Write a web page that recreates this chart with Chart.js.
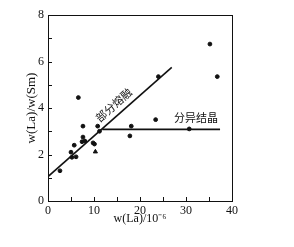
<!DOCTYPE html>
<html>
<head>
<meta charset="utf-8">
<script src="https://cdn.jsdelivr.net/npm/chart.js@4/dist/chart.umd.min.js"></script>
<style>
  html, body { margin: 0; padding: 0; background: #fff; }
  #c { display: block; }
</style>
</head>
<body>
<canvas id="c" width="294" height="247"></canvas>
<script>
// sample points w(La)/10^-6 vs w(La)/w(Sm)
const laValues = [2.6, 5.0, 5.2, 6.1, 5.7, 6.6, 7.6, 7.6, 7.4, 8.0, 9.8, 10.1, 10.8, 11.2, 17.8, 18.1, 23.4, 24.0, 30.7, 35.2, 36.8];
const ratioValues = [1.3, 2.1, 1.88, 1.9, 2.4, 4.45, 3.22, 2.75, 2.55, 2.58, 2.5, 2.45, 3.22, 3.0, 2.8, 3.22, 3.5, 5.35, 3.1, 6.75, 5.35];
const triLa = [10.3];
const triRatio = [2.12];

// trend lines
const meltX = [0, 26.9];
const meltY = [1.05, 5.75];
const crystX = [11.8, 37.4];
const crystY = [3.08, 3.08];

const xTicks = [0, 10, 20, 30, 40];
const yTicks = [0, 2, 4, 6, 8];

const meltLabel = '部分熔融';
const crystLabel = '分异结晶';

function pts(xs, ys) { return xs.map((x, i) => ({ x: x, y: ys[i] })); }

const framePlugin = {
  id: 'frame',
  afterDraw(chart) {
    const ctx = chart.ctx, a = chart.chartArea;
    const sx = chart.scales.x, sy = chart.scales.y;
    ctx.save();
    ctx.strokeStyle = '#111';
    ctx.lineWidth = 1;
    ctx.strokeRect(a.left + 0.5, a.top + 0.5, a.right - a.left, a.bottom - a.top);
    ctx.beginPath();
    for (let v = 5; v < 40; v += 5) {
      const px = Math.round(sx.getPixelForValue(v)) + 0.5;
      ctx.moveTo(px, a.bottom); ctx.lineTo(px, a.bottom - 4);
    }
    for (let v = 1; v < 8; v += 1) {
      const py = Math.round(sy.getPixelForValue(v)) + 0.5;
      ctx.moveTo(a.left, py); ctx.lineTo(a.left + 4, py);
    }
    ctx.stroke();

    // line labels
    ctx.fillStyle = '#111';
    ctx.font = '11px "Noto Sans CJK SC"';
    ctx.textAlign = 'center';
    ctx.textBaseline = 'middle';
    ctx.save();
    ctx.translate(sx.getPixelForValue(14.3), sy.getPixelForValue(4.13));
    ctx.rotate(-41.5 * Math.PI / 180);
    ctx.fillText(meltLabel, 0, 0);
    ctx.restore();
    ctx.fillText(crystLabel, sx.getPixelForValue(32.2), sy.getPixelForValue(3.57));
    ctx.restore();
  }
};

new Chart(document.getElementById('c').getContext('2d'), {
  type: 'scatter',
  data: {
    datasets: [
      { data: pts(laValues, ratioValues), backgroundColor: '#111', borderColor: '#111', pointRadius: 1.9, pointStyle: 'circle' },
      { data: pts(triLa, triRatio), backgroundColor: '#111', borderColor: '#111', pointRadius: 2.4, pointStyle: 'triangle' },
      { data: pts(meltX, meltY), showLine: true, borderColor: '#111', borderWidth: 1.6, pointRadius: 0 },
      { data: pts(crystX, crystY), showLine: true, borderColor: '#111', borderWidth: 1.6, pointRadius: 0 }
    ]
  },
  options: {
    responsive: false,
    animation: false,
    devicePixelRatio: 1,
    layout: { padding: { left: 0, right: 62, top: 15, bottom: 0 } },
    plugins: { legend: { display: false }, tooltip: { enabled: false } },
    scales: {
      x: {
        type: 'linear', min: 0, max: 40,
        afterBuildTicks: s => { s.ticks = xTicks.map(v => ({ value: v })); },
        afterFit: s => { s.height = 46; },
        ticks: { padding: 3, color: '#111', font: { family: '"Liberation Serif"', size: 12 } },
        grid: { display: false, drawTicks: false },
        border: { display: false },
        title: { display: true, text: 'w(La)/10⁻⁶', color: '#111', padding: { top: 0, bottom: 21 }, font: { family: '"Liberation Serif"', size: 12 } }
      },
      y: {
        type: 'linear', min: 0, max: 8,
        afterBuildTicks: s => { s.ticks = yTicks.map(v => ({ value: v })); },
        afterFit: s => { s.width = 48; },
        ticks: { padding: 4, color: '#111', font: { family: '"Liberation Serif"', size: 12 } },
        grid: { display: false, drawTicks: false },
        border: { display: false },
        title: { display: true, text: 'w(La)/w(Sm)', color: '#111', padding: { top: 24, bottom: 0 }, font: { family: '"Liberation Serif"', size: 13 } }
      }
    }
  },
  plugins: [framePlugin]
});
</script>
</body>
</html>
